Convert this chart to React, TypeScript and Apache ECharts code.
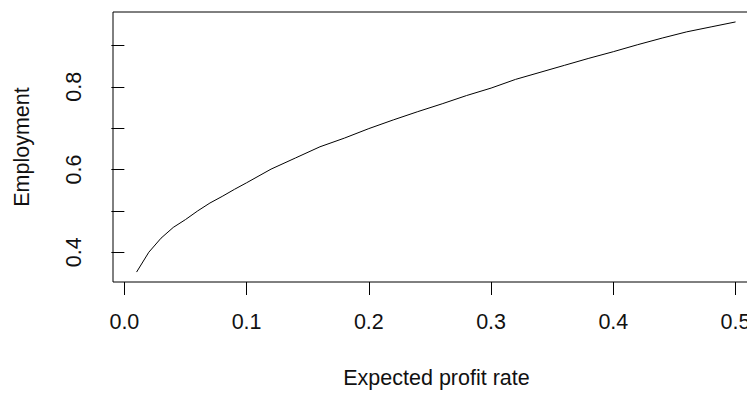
import React, { useEffect, useRef } from "react";
import * as echarts from "echarts";

// Expected profit rate (x) and resulting employment (y)
const profitRate = [
  0.01, 0.02, 0.03, 0.04, 0.05, 0.06, 0.07, 0.08, 0.09, 0.1,
  0.12, 0.14, 0.16, 0.18, 0.2, 0.22, 0.24, 0.26, 0.28, 0.3,
  0.32, 0.34, 0.36, 0.38, 0.4, 0.42, 0.44, 0.46, 0.48, 0.5,
];
const employment = [
  0.352, 0.4, 0.434, 0.46, 0.479, 0.5, 0.519, 0.535, 0.552, 0.568,
  0.601, 0.628, 0.655, 0.676, 0.699, 0.72, 0.74, 0.759, 0.779, 0.797,
  0.818, 0.835, 0.852, 0.869, 0.885, 0.902, 0.918, 0.933, 0.945, 0.957,
];

const xTicks = [0, 0.1, 0.2, 0.3, 0.4, 0.5];
const yTicks = [0.4, 0.5, 0.6, 0.7, 0.8, 0.9];
const yLabels = [0.4, 0.6, 0.8];

const FONT = "'Liberation Sans', Arial, sans-serif";
const FS = 21.5;

export default function App() {
  const ref = useRef<HTMLDivElement>(null);

  useEffect(() => {
    if (!ref.current) return;
    const chart = echarts.init(ref.current, undefined, { renderer: "svg" });
    chart.setOption({
      animation: false,
      backgroundColor: "#ffffff",
      textStyle: { fontFamily: FONT },
      grid: {
        left: 113,
        top: 12,
        bottom: 107,
        right: 10,
        show: true,
        borderColor: "#000",
        borderWidth: 1,
        backgroundColor: "transparent",
      },
      xAxis: {
        type: "value",
        min: -0.0093,
        max: 0.52,
        name: "Expected profit rate",
        nameLocation: "middle",
        nameGap: 85,
        nameTextStyle: { fontSize: FS, color: "#111", fontFamily: FONT },
        axisLine: { show: false },
        splitLine: { show: false },
        axisTick: {
          show: true,
          length: 13,
          lineStyle: { color: "#000", width: 1 },
          customValues: xTicks,
        },
        axisLabel: {
          customValues: xTicks,
          margin: 29,
          fontSize: FS,
          color: "#111",
          fontFamily: FONT,
          formatter: (v: number) => v.toFixed(1),
        },
      },
      yAxis: {
        type: "value",
        min: 0.328,
        max: 0.981,
        name: "Employment",
        nameLocation: "middle",
        nameRotate: 90,
        nameGap: 80,
        nameTextStyle: { fontSize: FS, color: "#111", fontFamily: FONT },
        axisLine: { show: false },
        splitLine: { show: false },
        axisTick: {
          show: true,
          length: 13,
          lineStyle: { color: "#000", width: 1 },
          customValues: yTicks,
        },
        axisLabel: {
          customValues: yLabels,
          rotate: 90,
          margin: 28,
          fontSize: FS,
          color: "#111",
          fontFamily: FONT,
          formatter: (v: number) => v.toFixed(1),
        },
      },
      series: [
        {
          type: "line",
          data: profitRate.map((x, i) => [x, employment[i]]),
          showSymbol: false,
          lineStyle: { color: "#000", width: 1 },
          silent: true,
        },
      ],
    });
    return () => chart.dispose();
  }, []);

  // The plot box runs past the right edge of the visible area; the outer
  // frame clips it.
  return (
    <div
      style={{
        position: "absolute",
        left: 0,
        top: 0,
        width: 747,
        height: 394,
        overflow: "hidden",
        background: "#fff",
      }}
    >
      <div ref={ref} style={{ width: 770, height: 394 }} />
    </div>
  );
}
